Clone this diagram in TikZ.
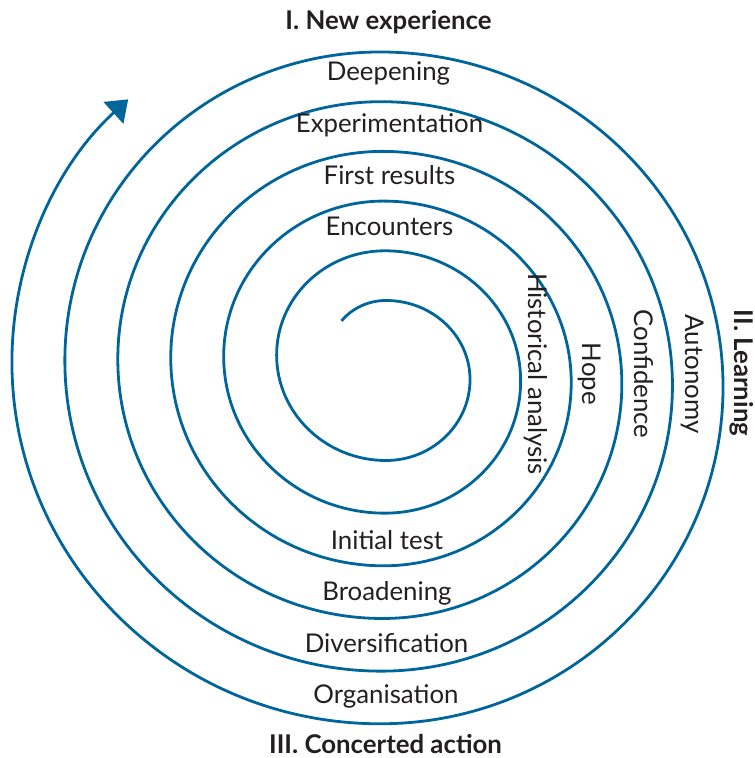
\documentclass[tikz,border=0pt]{standalone}
\usepackage{fontspec}
\setmainfont{Lato}
\usepackage{tikz}
\usetikzlibrary{arrows.meta}

\definecolor{spiralblue}{RGB}{0,101,154}
\definecolor{labelgray}{RGB}{35,31,32}

\tikzset{
    spiral/.style={draw=spiralblue, line width=1.4pt, -{Triangle[length=10pt,width=14.5pt]}},
    stage/.style={text=labelgray, font=\fontsize{12.9}{15}\selectfont, inner sep=0pt, anchor=base},
    phase/.style={stage, font=\fontsize{12.9}{15}\selectfont\bfseries},
}

\begin{document}
\begin{tikzpicture}[x=0.5pt, y=-0.5pt]
    \useasboundingbox (0,0) rectangle (754,758);

    % spiral, from the inner end outwards (clockwise)
    \coordinate (inner end) at (341.5,320.9);
    \draw[spiral] (inner end)
        arc[start angle=218, end angle=270, x radius=56.5, y radius=53.1]
        \foreach \k [evaluate=\k as \rxa using 84+51.8*\k,
                     evaluate=\k as \rya using 79+51.2*\k,
                     evaluate=\k as \ryb using 81+51.16*\k,
                     evaluate=\k as \rxc using 109.4+51.74*\k,
                     evaluate=\k as \ryc using 105.5+51.26*\k,
                     evaluate=\k as \rxd using 108.2+51.74*\k,
                     evaluate=\k as \ryd using 104.2+51.1*\k] in {0,...,4} {
            arc[start angle=-90, end angle=0, x radius=\rxa, y radius=\rya]
            arc[start angle=0, end angle=90, x radius=\rxa, y radius=\ryb]
            arc[start angle=90, end angle=180, x radius=\rxc, y radius=\ryc]
            arc[start angle=180, end angle=270, x radius=\rxd, y radius=\ryd]
        }
        arc[start angle=-90, end angle=0, x radius=343, y radius=335]
        arc[start angle=0, end angle=90, x radius=343, y radius=336.8]
        arc[start angle=90, end angle=180, x radius=368.1, y radius=361.8]
        arc[start angle=180, end angle=226.9, x radius=366.9, y radius=359.7];

    % phases
    \node[phase] (new experience) at (388.5,29.5) {I. New experience};
    \node[phase, rotate=-90] (learning) at (734,373) {II. Learning};
    \node[phase] (concerted action) at (385.5,753.5) {III. Concerted action};

    % stages above the centre
    \node[stage] (deepening) at (388.5,80.5) {Deepening};
    \node[stage] (experimentation) at (389.5,132.5) {Experimentation};
    \node[stage] (first results) at (389.5,184.5) {First results};
    \node[stage] (encounters) at (389.5,235.5) {Encounters};

    % stages right of the centre
    \node[stage, rotate=-90] (historical analysis) at (528,374) {Historical analysis};
    \node[stage, rotate=-90] (hope) at (582,374) {Hope};
    \node[stage, rotate=-90] (confidence) at (634,374) {Confidence};
    \node[stage, rotate=-90] (autonomy) at (685,374) {Autonomy};

    % stages below the centre
    \node[stage] (initial test) at (387,549.5) {Initial test};
    \node[stage] (broadening) at (387,600.5) {Broadening};
    \node[stage] (diversification) at (386.5,652.5) {Diversification};
    \node[stage] (organisation) at (386,703.5) {Organisation};
\end{tikzpicture}
\end{document}
